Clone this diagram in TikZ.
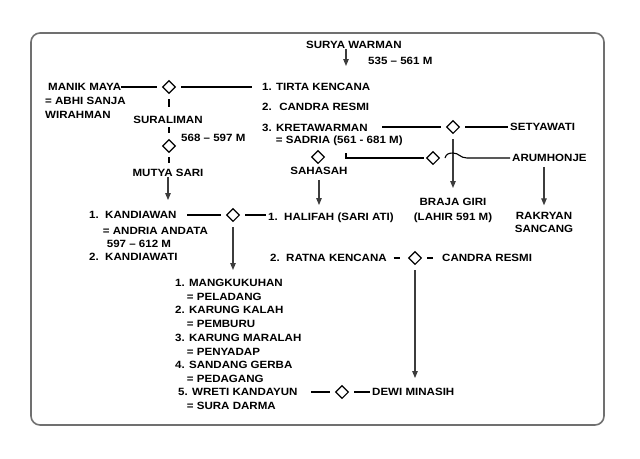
\documentclass[tikz,border=0pt]{standalone}
\usepackage{fontspec}
\setmainfont{Liberation Sans}[FakeStretch=1.1]
\usepackage{tikz}
\usetikzlibrary{arrows.meta,shapes.geometric}
\definecolor{frm}{RGB}{112,112,112}
\definecolor{arw}{RGB}{60,60,60}
\tikzset{
  lbl/.style={inner sep=0pt, anchor=west, text height=7.5pt, text depth=0pt},
  blk/.style={inner sep=0pt, anchor=north west, align=left},
  uni/.style={draw, diamond, minimum width=16pt, minimum height=16pt, inner sep=0pt,
    outer sep=4pt, line width=1.2pt, fill=white},
  link/.style={draw, line width=1.1pt},
  down/.style={draw=arw, line width=1.1pt, -{Triangle[length=7pt,width=5.5pt]}},
  frame/.style={draw=frm, line width=1.6pt, rounded corners=9pt}
}
\begin{document}
\begin{tikzpicture}[x=1pt, y=-1pt, font=\fontsize{10.5}{13.7}\selectfont\bfseries]
  \useasboundingbox (0,0) rectangle (640,458);
  \draw[frame] (31,33) rectangle (604,425);
  % puncak silsilah
  \node[lbl] (surya) at (306,45) {SURYA WARMAN};
  \node[lbl] (suryayr) at (368,61) {535 – 561 M};
  \coordinate (suryaend) at (346,66);
  \draw[down] (suryaend |- surya.south) -- (suryaend);
  \node[lbl] (tirta) at (262,87) {1. TIRTA KENCANA};
  \node[lbl] (candra) at (262,107) {2.~ CANDRA RESMI};
  \node[lbl] (kreta) at (262,127.5) {3. KRETAWARMAN};
  \node[lbl] (sadria) at (275.7,140) {= SADRIA (561 - 681 M)};
  % cabang kiri
  \node[lbl] (manik) at (48,87) {MANIK MAYA};
  \node[blk] (manik2) at (45,97.2) {= ABHI SANJA\\WIRAHMAN};
  \node[uni] (d1) at (169,87) {};
  \node[lbl, anchor=center] (suraliman) at (168,120) {SURALIMAN};
  \node[lbl] (surayr) at (181,138) {568 – 597 M};
  \node[uni] (d2) at (169,146) {};
  \node[lbl, anchor=center] (mutya) at (168,173) {MUTYA SARI};
  \draw[link] (manik.east) -- (d1.west);
  \draw[link, shorten >=10pt] (d1.east) -- (tirta.west);
  \draw[link, shorten >=9.5pt] (d1.south) -- (d1.south |- suraliman.north);
  \draw[link, shorten <=3.5pt, shorten >=1pt] (d2.north |- suraliman.south) -- (d2.north);
  \draw[link, shorten <=-1pt, shorten >=6.5pt] (d2.south) -- (d2.south |- mutya.north);
  % cabang kanan atas
  \node[uni] (d3) at (453,127) {};
  \node[lbl] (setya) at (510,127) {SETYAWATI};
  \node[uni] (d4) at (433,158) {};
  \node[lbl] (arum) at (512,158) {ARUMHONJE};
  \node[uni] (d5) at (318,157) {};
  \node[lbl, anchor=center] (sahasah) at (319,171) {SAHASAH};
  \node[blk, anchor=north, align=center] (braja) at (453,198) {BRAJA GIRI\\[1.3pt](LAHIR 591 M)};
  \node[blk, anchor=north, align=center] (rakryan) at (544,212.3) {RAKRYAN\\[-1.4pt]SANCANG};
  \coordinate (sadriaj) at (346,153);
  \draw[link] (d3.west -| kreta.east) ++(14.5,0) -- (d3.west);
  \draw[link, shorten >=2pt] (d3.east) -- (setya.west);
  \draw[down, shorten >=10pt] (d3.south) -- (d3.south |- braja.north);
  \draw[link, shorten >=-3pt] (sadriaj) |- (d4.west);
  \draw[link] (d4.east) .. controls +(1,-4) and +(-4,0) .. ++(8,-5)
    .. controls +(6,0) and +(-7,0) .. ++(14,5) -- ([xshift=-2pt]arum.west);
  \draw[down, shorten <=5pt, shorten >=7pt] (arum.south -| rakryan.north) -- (rakryan.north);
  % generasi berikutnya
  \node[lbl] (kand1) at (89,215) {1.\ \ KANDIAWAN};
  \node[blk] (kand2) at (89,227.3) {\hspace*{13.7pt}= ANDRIA ANDATA\\[-1pt]
    \hspace*{17.7pt}597 – 612 M\\[-0.7pt]2.\ \ KANDIAWATI};
  \node[uni] (d6) at (233,215) {};
  \node[lbl] (halifah) at (268,217) {1.\ \ HALIFAH (SARI ATI)};
  \node[lbl] (ratna) at (270,258) {2.\ \ RATNA KENCANA};
  \node[uni] (d7) at (415,258) {};
  \node[lbl] (candra2) at (442,258) {CANDRA RESMI};
  \draw[down, shorten >=11pt] (mutya.south) -- (mutya.south |- kand1.north);
  \draw[link, shorten <=10.5pt] (kand1.east) -- (d6.west);
  \draw[link, shorten >=2pt] (d6.east) -- (d6.east -| halifah.west);
  \draw[down, shorten <=5pt, shorten >=8pt] (sahasah.south) -- (sahasah.south |- halifah.north);
  \draw[link, shorten <=6.6pt, shorten >=3pt] (ratna.east) -- (d7.west);
  \draw[link, shorten >=8.7pt] (d7.east) -- (candra2.west);
  % keturunan Kandiawan
  \node[blk] (anak) at (175,279) {1. MANGKUKUHAN\\\hspace*{11.7pt}= PELADANG\\
    2. KARUNG KALAH\\\hspace*{11.7pt}= PEMBURU\\
    3. KARUNG MARALAH\\\hspace*{11.7pt}= PENYADAP\\
    4. SANDANG GERBA\\\hspace*{11.7pt}= PEDAGANG};
  \node[lbl] (wreti) at (178,392) {5. WRETI KANDAYUN};
  \node[lbl] (sura) at (186.7,406) {= SURA DARMA};
  \node[uni] (d8) at (342,392) {};
  \node[lbl] (dewi) at (372,392) {DEWI MINASIH};
  \draw[down, shorten >=9pt] (d6.south) -- (d6.south |- anak.north);
  \draw[link, shorten <=13.4pt] (wreti.east) -- (d8.west);
  \draw[link, shorten >=2pt] (d8.east) -- (dewi.west);
  \draw[down, shorten >=10pt] (d7.south) -- (d7.south |- dewi.north);
\end{tikzpicture}
\end{document}
